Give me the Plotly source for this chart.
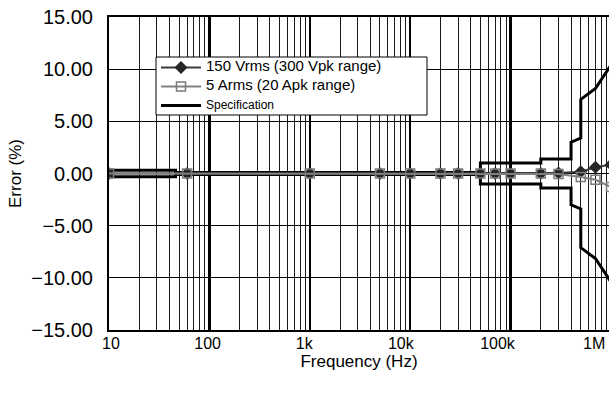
import plotly.graph_objects as go

# ---- data ----
freq = [10, 60, 1e3, 5e3, 10e3, 20e3, 30e3, 50e3, 70e3, 100e3, 200e3, 300e3, 500e3, 700e3, 1e6]
err_v = [0.0, 0.0, 0.0, 0.0, 0.0, 0.0, 0.0, 0.0, 0.0, 0.0, 0.0, 0.05, 0.17, 0.6, 0.85]
err_a = [0.0, 0.0, 0.0, 0.0, 0.0, 0.0, 0.0, 0.0, 0.0, 0.0, 0.0, -0.05, -0.33, -0.6, -1.3]

spec_f = [10, 46, 46, 50e3, 50e3, 200e3, 200e3, 400e3, 400e3, 500e3, 500e3, 700e3, 1e6, 1.3e6]
spec_up = [0.3, 0.3, 0.1, 0.1, 1.0, 1.0, 1.4, 1.4, 3.0, 3.4, 7.1, 8.15, 10.4, 13.0]

x_tickvals = [10, 100, 1e3, 1e4, 1e5, 1e6]
x_ticktext = ["10", "100", "1k", "10k", "100k", "1M"]
y_tickvals = [-15, -10, -5, 0, 5, 10, 15]

FONT = "Liberation Sans, Arial, sans-serif"

spec_x = spec_f + [None] + spec_f
spec_y = spec_up + [None] + [-v for v in spec_up]

minor_vals = [d * m for d in [10, 100, 1e3, 1e4, 1e5, 1e6] for m in range(2, 10)]

W, H = 609, 395
PLOT_L, PLOT_T, PLOT_B = 109, 17, 330
PW, PH = W - PLOT_L, PLOT_B - PLOT_T


def px(xf):   # page px -> paper x
    return (xf - PLOT_L) / PW


def py(yf):   # page px -> paper y
    return 1 - (yf - PLOT_T) / PH


fig = go.Figure()
fig.add_trace(go.Scatter(
    x=spec_x, y=spec_y, mode="lines",
    name="<span style='font-size:12px'>Specification</span>",
    line=dict(color="black", width=3), legendrank=3, connectgaps=False))
fig.add_trace(go.Scatter(
    x=freq, y=err_v, mode="lines+markers",
    name="<span style='font-size:15px'>150 Vrms (300 Vpk range)</span>",
    line=dict(color="#3a3a3a", width=2),
    marker=dict(symbol="diamond", size=10, color="#262626"), legendrank=1))
fig.add_trace(go.Scatter(
    x=freq, y=err_a, mode="lines+markers",
    name="<span style='font-size:15px'>5 Arms (20 Apk range)</span>",
    line=dict(color="#808080", width=2),
    marker=dict(symbol="square-open", size=9, color="#7a7a7a", line=dict(width=1.5)), legendrank=2))
# carrier for the label axis
fig.add_trace(go.Scatter(x=x_tickvals, y=[None] * len(x_tickvals), xaxis="x2",
                         mode="lines", showlegend=False, hoverinfo="skip"))

# legend frame
fig.add_shape(type="rect", xref="paper", yref="paper",
              x0=px(156), x1=px(427), y0=py(115), y1=py(57),
              line=dict(color="black", width=1), fillcolor="white", layer="above")

fig.update_layout(
    width=W, height=H,
    margin=dict(l=PLOT_L, r=0, t=PLOT_T, b=H - PLOT_B),
    paper_bgcolor="white", plot_bgcolor="white",
    font=dict(family=FONT, size=16, color="black"),
    showlegend=True,
    hovermode=False,
    legend=dict(x=px(156), y=py(53), xanchor="left", yanchor="top",
                bgcolor="rgba(0,0,0,0)", borderwidth=0,
                font=dict(size=10), tracegroupgap=0, itemwidth=40),
    xaxis=dict(
        type="log", range=[1, 5.98], automargin=False,
        tickvals=x_tickvals, showticklabels=False,
        showgrid=True, gridcolor="black", gridwidth=2.5,
        minor=dict(tickvals=minor_vals, showgrid=True, gridcolor="#1a1a1a", gridwidth=1, ticks=""),
        showline=True, linecolor="black", linewidth=2, mirror=True,
        ticks="",
    ),
    xaxis2=dict(
        type="log", range=[0.9795, 6.154], overlaying="x", anchor="y", side="bottom",
        automargin=False, showgrid=False, showline=False, zeroline=False, ticks="",
        tickvals=x_tickvals, ticktext=x_ticktext, tickfont=dict(size=16),
        ticklabelstandoff=2, ticklabeloverflow="allow",
        title=dict(text="Frequency (Hz)", font=dict(size=17), standoff=3),
    ),
    yaxis=dict(
        range=[-15, 15], tickvals=y_tickvals, tickformat=".2f", automargin=False,
        showgrid=True, gridcolor="black", gridwidth=1,
        zeroline=False,
        showline=True, linecolor="black", linewidth=2, mirror=True,
        ticks="", tickfont=dict(size=20), ticklabelstandoff=10, ticklabeloverflow="allow",
        title=dict(text="Error (%)", font=dict(size=17), standoff=5),
    ),
)

fig.write_html(
    "out.html",
    config={"displayModeBar": False, "staticPlot": True},
    post_script="document.documentElement.style.overflow='hidden';"
                "document.body.style.margin='0';document.body.style.overflow='hidden';",
)
